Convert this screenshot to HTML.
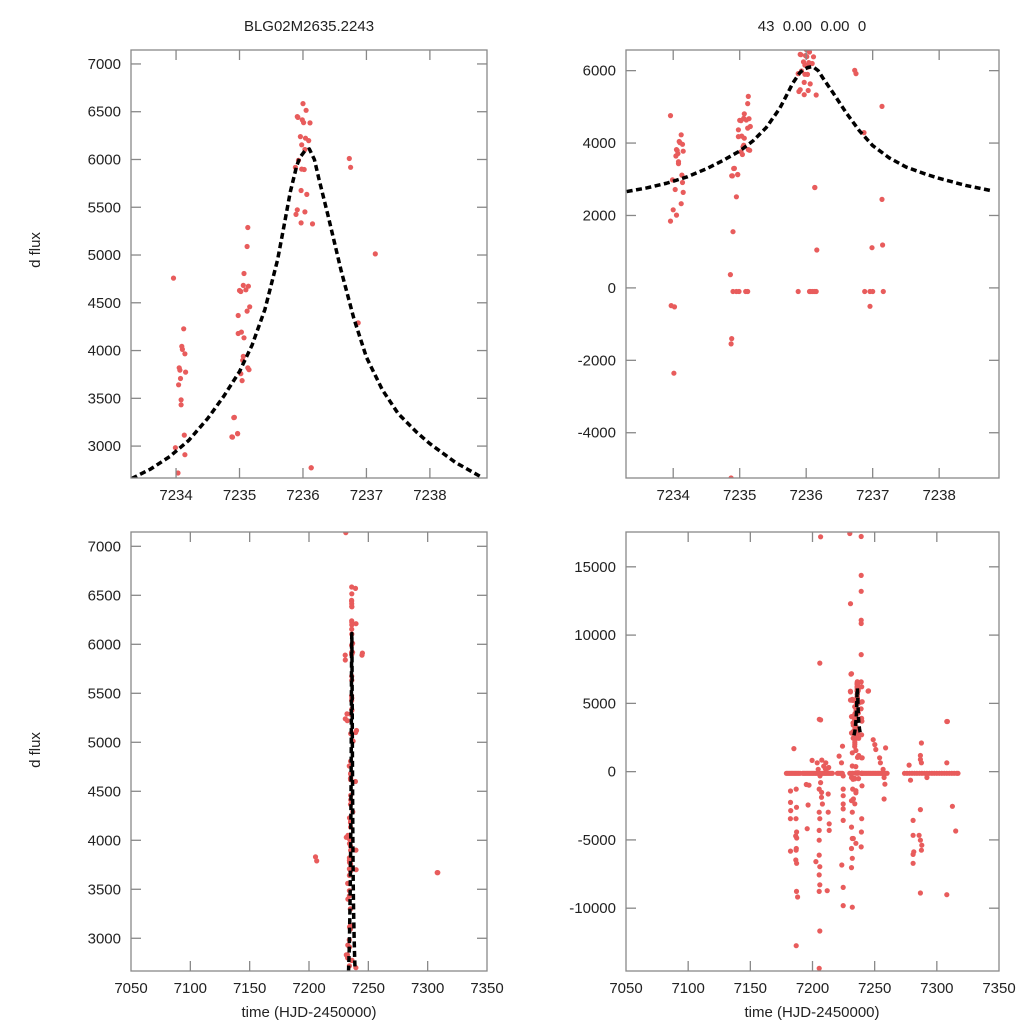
<!DOCTYPE html>
<html><head><meta charset="utf-8"><style>
html,body{margin:0;padding:0;background:#fff;width:1024px;height:1024px;overflow:hidden;}
svg{display:block;overflow:hidden;font-family:"Liberation Sans",sans-serif;}
</style></head><body>
<svg id="fig" width="1024" height="1024" viewBox="0 0 1024 1024" xmlns="http://www.w3.org/2000/svg">
<rect width="1024" height="1024" fill="#fff"/>
<text x="309" y="31" font-size="15" text-anchor="middle" fill="#222">BLG02M2635.2243</text>
<text x="812" y="31" font-size="15" text-anchor="middle" fill="#222" xml:space="preserve">43  0.00  0.00  0</text>
<text transform="translate(40,250) rotate(-90)" font-size="15" text-anchor="middle" fill="#222">d flux</text>
<text transform="translate(40,750) rotate(-90)" font-size="15" text-anchor="middle" fill="#222">d flux</text>
<text x="309" y="1017" font-size="15" text-anchor="middle" fill="#222">time (HJD-2450000)</text>
<text x="812" y="1017" font-size="15" text-anchor="middle" fill="#222">time (HJD-2450000)</text>
</svg>
<script>
// observations (time, flux)
const obsTime = [
7233.96,7234.12,7234.09,7234.10,7234.14,7234.05,7234.06,7234.15,7234.07,7234.04,7234.08,7234.08,7234.13,7233.99,7234.14,7234.03,
7235.13,7235.12,7235.07,7235.00,7235.02,7235.06,7235.10,7235.14,7235.16,7235.12,7234.98,7234.98,7235.03,7235.07,7235.06,7235.05,7235.13,7235.15,7235.02,7235.04,7234.92,7234.89,7234.97,
7236.00,7236.05,7235.91,7235.92,7235.99,7236.01,7236.11,7235.96,7236.04,7236.09,7235.98,7236.03,7235.93,7235.88,7235.98,7236.02,7235.97,7236.06,7235.91,7235.89,7236.03,7235.97,7236.15,7236.13,7236.73,7236.75,7237.14,7236.87,
7233.96,7234.00,7234.05,7234.12,7234.15,7233.97,7234.02,7234.01,7234.86,7234.90,7234.95,7234.91,7234.88,7234.97,7234.88,7234.87,7234.87,7236.13,7236.16,7236.96,7236.99,7237.15,7237.14,
7234.90,7234.95,7234.99,7235.09,7235.12,7235.88,7236.05,7236.07,7236.10,7236.13,7236.15,7236.88,7236.96,7237.00,7237.16,
7185.0,7182.3,7182.3,7182.5,7182.2,7186.9,7187.1,7186.7,7187.2,7186.5,7187.3,7187.0,7186.8,7182.3,7186.6,7187.2,7187.1,7188.0,7186.9,
7196.5,7195.7,7195.0,7197.2,7199.7,7203.8,7204.6,7206.0,7206.5,7205.4,7207.3,7205.9,7206.5,7205.9,7205.4,7206.5,
7205.4,7205.9,7205.4,7205.4,7205.4,7205.9,7205.4,7205.9,7205.4,7202.7,7207.2,7208.0,7207.5,7210.7,7211.8,7212.6,7212.6,7213.4,7213.4,7209.0,7210.4,7212.0,7213.0,
7221.4,7224.1,7223.3,7224.7,7224.7,7224.7,7224.7,7224.7,7224.7,7223.6,7224.7,7224.7,
7230.0,7230.6,7231.4,7230.6,7230.6,7231.4,7231.4,7232.7,7232.4,7232.0,7232.0,7231.4,7232.3,7231.4,7232.0,7231.4,7232.0,7231.4,7232.0,7231.4,7232.0,
7239.5,7239.4,7232.6,7232.9,7239.6,7239.3,7232.8,
7239.2,7239.2,7239.2,7239.2,7239.2,7239.2,7239.2,7239.6,7240.0,7244.7,7239.2,7239.8,7240.0,
7248.8,7250.1,7250.9,7254.6,7254.0,7256.8,7257.6,7258.2,7257.6,7258.8,
7277.7,7278.8,7280.9,7280.9,7281.5,7280.9,7280.9,7286.8,7286.8,7287.6,7287.6,7286.8,7285.7,7286.8,7287.9,7287.6,7286.8,7292.0,7308.0,7308.0,7308.0,7312.5,7315.2,
7231.0,7230.5,7232.0,7232.3,7245.0,7205.5,7308.5,7232.9,7232.6,7232.8,7239.3,7239.5,7232.7,7239.7,7232.5,7239.1,
7179,7180,7181,7182,7183,7184,7185,7186,7187,7188,7189,7190,
7192,7193,7194,7195,7196,7197,7198,7199,7200,7201,7202,7203,7204,7205,7206,7207,7208,7209,7210,7211,7212,7213,7214,7215,7216,
7220,7221,7222,7223,7224,
7230,7231,7232,7232.6,7239.3,7239.8,7239.5,7240,7241,7242,7243,7244,7245,7246,7247,7248,7249,7250,7251,7252,7253,7254,7255,7256,7257,7258,7259,7260,
7274,7276,7278,7280,7282,7284,7286,7288,7290,7292,7294,7296,7298,7300,7302,7304,7306,7308,7310,7312,7314,7316,7317
];
const obsFlux = [
4758,4228,4043,4012,3966,3820,3795,3774,3708,3642,3485,3432,3115,2983,2910,2718,
5288,5089,4807,4629,4618,4682,4636,4674,4458,4413,4367,4179,4193,4134,3940,3898,3820,3800,3758,3685,3300,3094,3129,
6585,6515,6449,6440,6414,6386,6383,6240,6223,6198,6154,6104,5990,5917,5899,5895,5675,5634,5473,5425,5451,5336,5326,2773,6010,5918,5012,4290,
1846,2158,2011,2324,2636,-489,-526,-2355,366,1551,2517,3298,3096,3132,-1399,-1546,-5250,2774,1046,-507,1110,1184,2443,
-100,-100,-100,-100,-100,-100,-100,-100,-100,-100,-100,-100,-100,-100,-100,
1690,-1420,-2250,-2850,-3450,-1280,-2610,-3450,-4420,-4710,-4860,-5630,-5750,-5820,-6470,-6710,-8770,-9180,-12750,
-2440,-4180,-940,-990,820,650,170,-310,-800,-1280,-1520,7950,3790,-11670,-14400,17200,
-2970,-3450,-4300,-5020,-6110,-6960,-7560,-8290,-8770,-6590,-1880,-2370,845,650,-8720,-1640,-2970,-3820,-4300,400,200,-70,300,
1135,1860,650,-310,-1280,-1760,-2370,-2730,-3570,-6840,-8480,-9810,
17440,12300,7170,5840,5240,4030,2830,2460,2830,1380,410,-430,-1280,-2130,-2970,-4060,-4900,-5630,-6350,-7030,-9930,
2700,1010,-560,-2000,-3450,-4420,-4900,
17220,14370,13210,11090,10850,8570,6570,6210,5120,5890,-5510,-1040,1010,
2340,1980,1620,650,1010,170,-430,-920,-2000,1740,
480,-630,-3570,-4660,-5870,-6060,-6710,1180,890,650,2100,-2780,-4660,-5020,-5390,-5750,-8890,-430,3670,650,-9010,-2540,-4350,
7140,5890,5290,5220,5910,3830,3670,4050,3560,3400,5100,3900,2930,3700,2800,4600,
-120,-120,-120,-120,-120,-120,-120,-120,-120,-120,-120,-120,
-120,-120,-120,-120,-120,-120,-120,-120,-120,-120,-120,-120,-120,-120,-120,-120,-120,-120,-120,-120,-120,-120,-120,-120,-120,
-120,-120,-120,-120,-120,
-120,-120,-120,-120,-120,-120,-120,-120,-120,-120,-120,-120,-120,-120,-120,-120,-120,-120,-120,-120,-120,-120,-120,-120,-120,-120,-120,-120,
-120,-120,-120,-120,-120,-120,-120,-120,-120,-120,-120,-120,-120,-120,-120,-120,-120,-120,-120,-120,-120,-120,-120
];
// model curve
const modelTime = [7233.3,7233.6,7233.9,7234.2,7234.5,7234.75,7235.0,7235.2,7235.4,7235.6,7235.7,7235.8,7235.9,7235.95,7236.03,7236.1,7236.18,7236.25,7236.4,7236.5,7236.6,7236.8,7237.0,7237.25,7237.5,7237.8,7238.0,7238.4,7238.8];
const modelFlux = [2660,2760,2890,3060,3290,3520,3780,4060,4430,4950,5300,5660,5930,6020,6090,6110,6000,5800,5400,5120,4840,4340,3930,3590,3340,3140,3025,2830,2680];
// tick labels
const ticksXZoom = [7234,7235,7236,7237,7238];
const ticksXFull = [7050,7100,7150,7200,7250,7300,7350];
const ticksYTL = [3000,3500,4000,4500,5000,5500,6000,6500,7000];
const ticksYTR = [-4000,-2000,0,2000,4000,6000];
const ticksYBR = [-10000,-5000,0,5000,10000,15000];

const NS = 'http://www.w3.org/2000/svg';
const svg = document.getElementById('fig');
function mk(tag, attrs, parent) {
  const e = document.createElementNS(NS, tag);
  for (const k in attrs) e.setAttribute(k, attrs[k]);
  (parent || svg).appendChild(e);
  return e;
}
const panels = [
  {id:'top-left', x0:131, x1:487, y0:50, y1:478, xmin:7233.29, xmax:7238.9, ymin:2666, ymax:7146, xt:ticksXZoom, yt:ticksYTL},
  {id:'top-right', x0:626, x1:999, y0:50, y1:478, xmin:7233.29, xmax:7238.9, ymin:-5250, ymax:6570, xt:ticksXZoom, yt:ticksYTR},
  {id:'bottom-left', x0:131, x1:487, y0:532, y1:971, xmin:7050, xmax:7350, ymin:2666, ymax:7146, xt:ticksXFull, yt:ticksYTL},
  {id:'bottom-right', x0:626, x1:999, y0:532, y1:971, xmin:7050, xmax:7350, ymin:-14600, ymax:17550, xt:ticksXFull, yt:ticksYBR}
];
const defs = mk('defs', {});
panels.forEach((p, i) => {
  const sx = v => p.x0 + (v - p.xmin) / (p.xmax - p.xmin) * (p.x1 - p.x0);
  const sy = v => p.y1 - (v - p.ymin) / (p.ymax - p.ymin) * (p.y1 - p.y0);
  const cp = mk('clipPath', {id:'clip' + i}, defs);
  mk('rect', {x:p.x0, y:p.y0, width:p.x1 - p.x0, height:p.y1 - p.y0}, cp);
  const g = mk('g', {});
  
  
  const pts = mk('g', {'clip-path':'url(#clip' + i + ')', fill:'#e85c5c'}, g);
  
  
  for (let k = 0; k < obsTime.length; k++) {
    const c = mk('circle', {cx:sx(obsTime[k]).toFixed(1), cy:sy(obsFlux[k]).toFixed(1), r:2.6}, pts);
    
    
  }
  const d = modelTime.map((t, k) => (k ? 'L' : 'M') + sx(t).toFixed(2) + ',' + sy(modelFlux[k]).toFixed(2)).join('');
  const ln = mk('path', {d:d, fill:'none', stroke:'#000', 'stroke-width':3.5, 'stroke-dasharray':'6,3.5', 'stroke-linejoin':'round', 'clip-path':'url(#clip' + i + ')'}, g);
  
  
  const ax = mk('g', {stroke:'#888', 'stroke-width':1.3}, g);
  
  
  mk('rect', {x:p.x0, y:p.y0, width:p.x1 - p.x0, height:p.y1 - p.y0, fill:'none'}, ax);
  p.xt.forEach(v => {
    const X = sx(v);
    if (X > p.x0 + 1 && X < p.x1 - 1) {
      mk('line', {x1:X, x2:X, y1:p.y1, y2:p.y1 - 10}, ax);
      mk('line', {x1:X, x2:X, y1:p.y0, y2:p.y0 + 10}, ax);
    }
    const t = mk('text', {x:X, y:p.y1 + 22, 'font-size':15, 'text-anchor':'middle', fill:'#222', stroke:'none'}, g);
    t.textContent = v;
    
    
  });
  p.yt.forEach(v => {
    const Y = sy(v);
    mk('line', {x1:p.x0, x2:p.x0 + 10, y1:Y, y2:Y}, ax);
    mk('line', {x1:p.x1, x2:p.x1 - 10, y1:Y, y2:Y}, ax);
    const t = mk('text', {x:p.x0 - 10, y:Y + 5, 'font-size':15, 'text-anchor':'end', fill:'#222', stroke:'none'}, g);
    t.textContent = v;
    
    
  });
});
</script>
</body></html>
